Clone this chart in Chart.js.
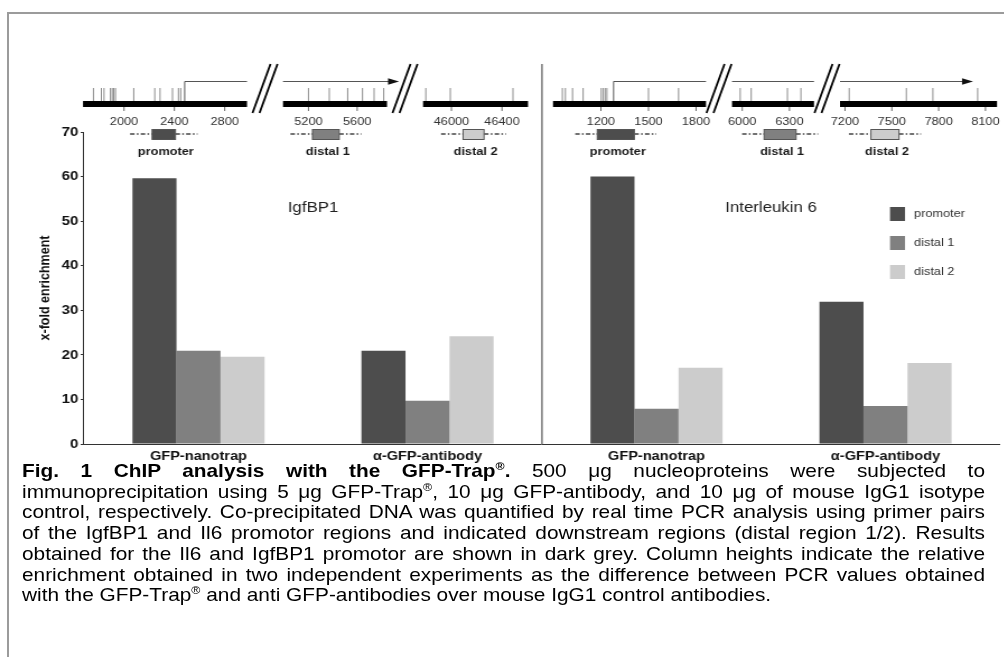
<!DOCTYPE html>
<html>
<head>
<meta charset="utf-8">
<script src="https://cdn.jsdelivr.net/npm/chart.js@4/dist/chart.umd.min.js"></script>
<style>
    body {
        margin: 0;
        width: 1004px;
        height: 661px;
        overflow: hidden;
        position: relative;
        background: #fff;
        font-family: "Liberation Sans", Arial, sans-serif;
    }

    #marco {
        position: absolute;
        left: 7px;
        top: 12px;
        width: 1010px;
        height: 643px;
        border-left: 2px solid #9b9b9b;
        border-top: 2px solid #9b9b9b;
    }

    #lienzo {
        position: absolute;
        left: 0;
        top: 0;
        transform-origin: 0 0;
    }

    #pie {
        position: absolute;
        left: 22px;
        top: 461px;
        transform-origin: 0 0;
        font-size: 18.6px;
        line-height: 20.7px;
        color: #000;
    }

    #pie div {
        text-align: justify;
        text-align-last: justify;
    }

    #pie div.fin {
        text-align-last: left;
    }

    #pie sup {
        font-size: 11px;
        line-height: 0;
    }
</style>
</head>
<body>

<div id="marco"></div>

<div id="lienzo">
    <canvas id="grafico"></canvas>
</div>

<div id="pie">
    <div><b>Fig. 1 ChIP analysis with the GFP-Trap<sup>®</sup>.</b> 500 μg nucleoproteins were subjected to</div>
    <div>immunoprecipitation using 5 μg GFP-Trap<sup>®</sup>, 10 μg GFP-antibody, and 10 μg of mouse IgG1 isotype</div>
    <div>control, respectively. Co-precipitated DNA was quantified by real time PCR analysis using primer pairs</div>
    <div>of the IgfBP1 and Il6 promotor regions and indicated downstream regions (distal region 1/2). Results</div>
    <div>obtained for the Il6 and IgfBP1 promotor are shown in dark grey. Column heights indicate the relative</div>
    <div>enrichment obtained in two independent experiments as the difference between PCR values obtained</div>
    <div class="fin">with the GFP-Trap<sup>®</sup> and anti GFP-antibodies over mouse IgG1 control antibodies.</div>
</div>

<script>

// DATOS
const grupos = ['GFP-nanotrap', 'α-GFP-antibody', 'GFP-nanotrap', 'α-GFP-antibody'];
const regiones = ['promoter', 'distal 1', 'distal 2'];
const genes = ['IgfBP1', 'Interleukin 6'];

const promotor = [59.6, 20.9, 60.0, 31.9];
const distal1 = [20.9, 9.7, 7.9, 8.5];
const distal2 = [19.6, 24.2, 17.1, 18.2];

const yMax = 70;
const yPaso = 10;

// MAPAS (posiciones en pb)
const igfRangos = [[1674, 2977], [4991, 5845], [45775, 46606]];
const igfTicks = [[2000, 2400, 2800], [5200, 5600], [46000, 46400]];
const igfSitios = [
    [1757, 1820, 1841, 1892, 1906, 1918, 1932, 2077, 2244, 2286, 2385, 2432, 2450],
    [5200, 5371, 5522, 5644, 5739, 5818],
    [45797, 45991, 46487]
];
const igfTSS = 2482;
const igfAmplicones = [[2223, 2409], [5233, 5453], [46092, 46258]];

const il6Rangos = [[898, 1863], [5935, 6456], [7168, 8174]];
const il6Ticks = [[1200, 1500, 1800], [6000, 6300], [7200, 7500, 7800, 8100]];
const il6Sitios = [
    [957, 976, 1021, 1088, 1202, 1215, 1227, 1238, 1500, 1690],
    [5987, 6057, 6287, 6373],
    [7227, 7593, 7763, 8050]
];
const il6TSS = 1280;
const il6Amplicones = [[1177, 1411], [6139, 6342], [7366, 7546]];

// LAYOUT (px de la imagen)
const SX = 1.12;
const colores = ['#4d4d4d', '#808080', '#cccccc'];
const igfTramos = [[83, 247], [283, 387], [423, 528]];
const il6Tramos = [[553, 706], [732, 814], [840, 997]];
const igfPunta = 399;
const il6Punta = 973;

const px = v => v / SX;

const ancho = Math.round(1004 / SX);

document.getElementById('lienzo').style.transform = 'scaleX(' + SX + ')';

const pie = document.getElementById('pie');
pie.style.width = (963 / SX) + 'px';
pie.style.transform = 'scaleX(' + SX + ')';

const canvas = document.getElementById('grafico');
canvas.width = ancho;
canvas.height = 470;

const fuente = '"Liberation Sans", Arial, sans-serif';

Chart.defaults.font.family = fuente;
Chart.defaults.color = '#1a1a1a';

function linea(ctx, x0, y0, x1, y1) {
    ctx.beginPath();
    ctx.moveTo(x0, y0);
    ctx.lineTo(x1, y1);
    ctx.stroke();
}

function dibujarMapa(ctx, m) {

    const xg = (i, g) =>
        px(m.tramos[i][0] +
            (g - m.rangos[i][0]) / (m.rangos[i][1] - m.rangos[i][0]) *
            (m.tramos[i][1] - m.tramos[i][0]));

    ctx.save();

    m.tramos.forEach((t, i) => {

        // barra del gen
        ctx.fillStyle = '#000';
        ctx.fillRect(px(t[0]), 101, px(t[1] - t[0]), 6);

        // sitios
        ctx.strokeStyle = '#8c8c8c';
        ctx.lineWidth = 1;
        m.sitios[i].forEach(g => {
            const x = xg(i, g);
            linea(ctx, x, 88, x, 101);
        });

        // escala
        ctx.strokeStyle = '#666';
        ctx.fillStyle = '#333';
        ctx.font = '11.4px ' + fuente;
        ctx.textAlign = 'center';
        ctx.textBaseline = 'middle';
        m.ticks[i].forEach(g => {
            const x = xg(i, g);
            linea(ctx, x, 107, x, 111);
            ctx.fillText(String(g), x, 122);
        });

        // corte //
        if (i < m.tramos.length - 1) {
            const c = (t[1] + m.tramos[i + 1][0]) / 2;
            ctx.strokeStyle = '#000';
            ctx.lineWidth = 1.8;
            linea(ctx, px(c - 12.5), 113, px(c + 5.5), 64);
            linea(ctx, px(c - 5.5), 113, px(c + 12.5), 64);
        }

        // amplicon
        const xa = xg(i, m.amplicones[i][0]);
        const xb = xg(i, m.amplicones[i][1]);

        ctx.strokeStyle = '#444';
        ctx.lineWidth = 1.3;
        ctx.setLineDash([4, 2, 1.5, 2]);
        linea(ctx, xa - px(22), 134, xa, 134);
        linea(ctx, xb, 134, xb + px(22), 134);
        ctx.setLineDash([]);

        ctx.fillStyle = colores[i];
        ctx.fillRect(xa, 129, xb - xa, 10);
        ctx.strokeStyle = '#555';
        ctx.lineWidth = 1;
        ctx.strokeRect(xa, 129.5, xb - xa, 10);

        ctx.fillStyle = '#1a1a1a';
        ctx.font = 'bold 11.4px ' + fuente;
        ctx.fillText(regiones[i], (xa + xb) / 2 + px(2), 152);
    });

    // flecha de transcripcion
    ctx.strokeStyle = '#555';
    ctx.lineWidth = 1;
    const xt = xg(0, m.tss);
    linea(ctx, xt, 101, xt, 81.5);

    for (let i = 0; i < m.tramos.length; i++) {

        const ini = i === 0 ? xt : px(m.tramos[i][0]);
        const ultimo =
            i === m.tramos.length - 1 ||
            m.tramos[i + 1][0] > m.punta;
        const fin = ultimo ? px(m.punta) : px(m.tramos[i][1]);

        if (ultimo) {
            linea(ctx, ini, 81.5, fin - px(10), 81.5);
            ctx.fillStyle = '#111';
            ctx.beginPath();
            ctx.moveTo(fin, 81.5);
            ctx.lineTo(fin - px(11), 78.3);
            ctx.lineTo(fin - px(11), 84.7);
            ctx.closePath();
            ctx.fill();
            break;
        }

        linea(ctx, ini, 81.5, fin, 81.5);
    }

    ctx.restore();
}

const extras = {
    id: 'extras',
    afterDraw(chart) {

        const ctx = chart.ctx;
        const area = chart.chartArea;
        const x = chart.scales.x;
        const y = chart.scales.y;

        ctx.save();

        // DIVISOR
        const xd = (x.getPixelForValue(1) + x.getPixelForValue(2)) / 2;
        ctx.strokeStyle = '#333';
        ctx.lineWidth = 1;
        linea(ctx, xd, 64, xd, area.bottom);

        // GENES
        ctx.fillStyle = '#222';
        ctx.font = '15px ' + fuente;
        ctx.textAlign = 'center';
        ctx.textBaseline = 'middle';
        genes.forEach((g, p) => {
            const cx = (x.getPixelForValue(2 * p) + x.getPixelForValue(2 * p + 1)) / 2;
            ctx.fillText(g, cx, y.getPixelForValue(53));
        });

        // LEYENDA
        ctx.textAlign = 'left';
        ctx.font = '11.4px ' + fuente;
        chart.data.datasets.forEach((d, k) => {
            const yl = 214 + k * 29;
            ctx.fillStyle = d.backgroundColor;
            ctx.fillRect(area.right - px(110), yl - 7, px(15), 14);
            ctx.fillStyle = '#333';
            ctx.fillText(d.label, area.right - px(86), yl);
        });

        ctx.restore();

        // MAPAS
        dibujarMapa(ctx, {
            tramos: igfTramos, rangos: igfRangos, ticks: igfTicks,
            sitios: igfSitios, tss: igfTSS, amplicones: igfAmplicones,
            punta: igfPunta
        });

        dibujarMapa(ctx, {
            tramos: il6Tramos, rangos: il6Rangos, ticks: il6Ticks,
            sitios: il6Sitios, tss: il6TSS, amplicones: il6Amplicones,
            punta: il6Punta
        });
    }
};

new Chart(canvas, {
    type: 'bar',

    data: {
        labels: grupos,
        datasets: [
            { label: regiones[0], data: promotor, backgroundColor: colores[0] },
            { label: regiones[1], data: distal1, backgroundColor: colores[1] },
            { label: regiones[2], data: distal2, backgroundColor: colores[2] }
        ]
    },

    options: {
        responsive: false,
        animation: false,
        events: [],

        layout: {
            padding: { left: 0, right: ancho - px(1000), top: 132, bottom: 0 }
        },

        datasets: {
            bar: { categoryPercentage: 0.577, barPercentage: 1 }
        },

        plugins: {
            legend: { display: false },
            tooltip: { enabled: false }
        },

        scales: {
            x: {
                grid: { display: false, drawTicks: false },
                border: { color: '#333', width: 1 },
                ticks: {
                    font: { size: 13, weight: 'bold' },
                    color: '#111',
                    padding: 5,
                    maxRotation: 0
                },
                afterFit(s) { s.height = 26; }
            },
            y: {
                min: 0,
                max: yMax,
                grid: {
                    drawOnChartArea: false,
                    drawTicks: true,
                    tickLength: 3,
                    color: '#333'
                },
                border: { color: '#333', width: 1 },
                ticks: {
                    stepSize: yPaso,
                    font: { size: 13.5, weight: 'bold' },
                    color: '#111',
                    padding: 2
                },
                title: {
                    display: true,
                    text: 'x-fold enrichment',
                    font: { size: 12.5, weight: 'bold' },
                    color: '#111',
                    padding: { top: px(45) - 7.5, bottom: 0 }
                },
                afterFit(s) { s.width = px(84); }
            }
        }
    },

    plugins: [extras]
});

</script>
</body>
</html>
